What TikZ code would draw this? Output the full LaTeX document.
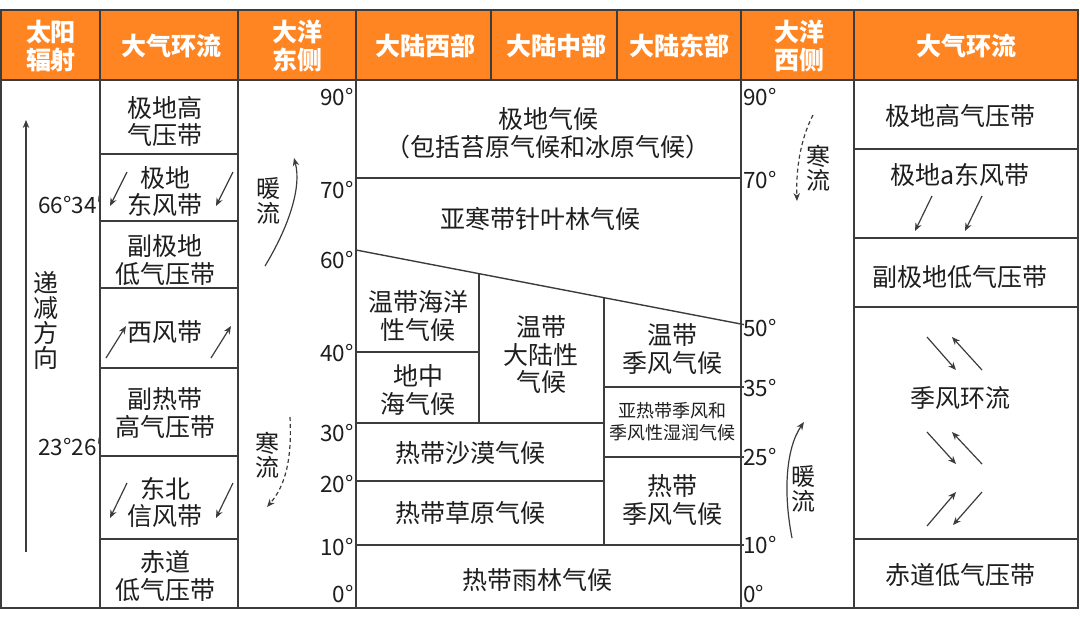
\documentclass[tikz,border=0pt]{standalone}
\usepackage{fontspec}
\setmainfont{Noto Sans CJK SC}
\usetikzlibrary{arrows.meta}
\definecolor{hdr}{HTML}{FF8523}
\definecolor{ln}{HTML}{3C3C3C}
\definecolor{tx}{HTML}{1E1E1E}
\begin{document}
\begin{tikzpicture}[x=1pt,y=-1pt,
  grid/.style={draw=ln, line width=1.4pt},
  frame/.style={draw=ln, line width=1.8pt},
  txt/.style={font=\fontsize{25}{27.5}\selectfont, text=tx, align=center, inner sep=0pt},
  vtxt/.style={font=\fontsize{24}{24.5}\selectfont, text=tx, align=center, inner sep=0pt},
  dtxt/.style={font=\fontsize{25}{25}\selectfont, text=tx, align=center, inner sep=0pt},
  hd/.style={font=\fontsize{25}{28}\selectfont\bfseries, text=white, align=center, inner sep=0pt},
  deg/.style={font=\fontsize{22.5}{24}\selectfont, text=tx, inner sep=0pt},
  smalltxt/.style={font=\fontsize{18}{22}\selectfont, text=tx, align=center, inner sep=0pt},
  arr/.style={draw=ln, line width=1.2pt, -{Stealth[length=8pt,width=6.5pt]}},
  darr/.style={arr, dash pattern=on 4pt off 3pt},
]
\useasboundingbox (0,0) rectangle (1080,625);
\fill[white] (0,0) rectangle (1080,625);
\fill[hdr] (1,10) rectangle (1078,80);

% latitude marks of the sun column (drawn under the lines)
\node[deg, anchor=east] (l66) at (103,205) {66°34′};
\node[deg, anchor=east] (l23) at (103,447) {23°26′};

% grid
\draw[grid] (1,80) -- (1078,80);
\foreach \x in {100,238,356,741,854} \draw[grid] (\x,10) -- (\x,608);
\foreach \x in {491,617} \draw[grid] (\x,10) -- (\x,80);
\foreach \y in {154,221,288,368,456,539} \draw[grid] (100,\y) -- (238,\y);
\draw[grid] (356,178) -- (741,178);
\draw[grid] (356,250) -- (744,324.6);
\draw[grid] (479,273.6) -- (479,423);
\draw[grid] (604,297.7) -- (604,545);
\draw[grid] (356,352) -- (479,352);
\draw[grid] (356,423) -- (604,423);
\draw[grid] (356,481) -- (604,481);
\draw[grid] (356,545) -- (744,545);
\draw[grid] (604,387) -- (744,387);
\draw[grid] (604,457) -- (744,457);
\foreach \y in {149,238,307,539} \draw[grid] (854,\y) -- (1078,\y);
\draw[frame] (1,10) rectangle (1078,608);

% header
\node[hd] (h1) at (51,46) {太阳\\辐射};
\node[hd] (h2) at (171,46) {大气环流};
\node[hd] (h3) at (297,46) {大洋\\东侧};
\node[hd] (h4) at (425,46) {大陆西部};
\node[hd] (h5) at (556,46) {大陆中部};
\node[hd] (h6) at (679,46) {大陆东部};
\node[hd] (h7) at (799,46) {大洋\\西侧};
\node[hd] (h8) at (966,46) {大气环流};

% sun column
\coordinate (sunA) at (26,552);
\coordinate (sunB) at (26,120);
\draw[arr] (sunA) -- (sunB);
\node[dtxt] (dj) at (46,320) {递\\减\\方\\向};

% left atmospheric circulation
\node[txt] (a1) at (165,121.5) {极地高\\气压带};
\node[txt] (a2) at (165,191.5) {极地\\东风带};
\node[txt] (a3) at (165,260) {副极地\\低气压带};
\node[txt] (a4) at (165,332) {西风带};
\node[txt] (a5) at (165,413) {副热带\\高气压带};
\node[txt] (a6) at (165,502.5) {东北\\信风带};
\node[txt] (a7) at (165,576) {赤道\\低气压带};

\coordinate (e1s) at (127,172); \coordinate (e1e) at (110,206);
\coordinate (e2s) at (233,172); \coordinate (e2e) at (216,206);
\draw[arr] (e1s) -- (e1e);
\draw[arr] (e2s) -- (e2e);
\coordinate (w1s) at (106,358); \coordinate (w1e) at (126,326);
\coordinate (w2s) at (211,358); \coordinate (w2e) at (231,326);
\draw[arr] (w1s) -- (w1e);
\draw[arr] (w2s) -- (w2e);
\coordinate (t1s) at (127,483); \coordinate (t1e) at (110,518);
\coordinate (t2s) at (233,483); \coordinate (t2e) at (216,518);
\draw[arr] (t1s) -- (t1e);
\draw[arr] (t2s) -- (t2e);

% east side of ocean
\node[vtxt] (nl1) at (268,201) {暖\\流};
\coordinate (nw1s) at (265,266); \coordinate (nw1e) at (294,158);
\draw[arr] (nw1s) .. controls (288,228) and (302,188) .. (nw1e);
\node[vtxt] (hl1) at (267,455) {寒\\流};
\coordinate (hc1s) at (290,417); \coordinate (hc1e) at (267,507);
\draw[darr] (hc1s) .. controls (292,458) and (286,485) .. (hc1e);

\node[deg, anchor=east] (d90) at (354,97) {90°};
\node[deg, anchor=east] (d70) at (354,190) {70°};
\node[deg, anchor=east] (d60) at (354,260) {60°};
\node[deg, anchor=east] (d40) at (354,353) {40°};
\node[deg, anchor=east] (d30) at (354,433) {30°};
\node[deg, anchor=east] (d20) at (354,484) {20°};
\node[deg, anchor=east] (d10) at (354,547) {10°};
\node[deg, anchor=east] (d0) at (354,594) {0°};

% continent climates
\node[txt] (c1) at (548,133) {极地气候\\（包括苔原气候和冰原气候）};
\node[txt] (c2) at (540,219) {亚寒带针叶林气候};
\node[txt] (c3) at (418,316) {温带海洋\\性气候};
\node[txt] (c4) at (418,390) {地中\\海气候};
\node[txt] (c5) at (541,355) {温带\\大陆性\\气候};
\node[txt] (c6) at (672,349) {温带\\季风气候};
\node[smalltxt] (c7) at (672,422) {亚热带季风和\\季风性湿润气候};
\node[txt] (c8) at (470,453) {热带沙漠气候};
\node[txt] (c9) at (470,513) {热带草原气候};
\node[txt] (c10) at (672,500) {热带\\季风气候};
\node[txt] (c11) at (537,580) {热带雨林气候};

% west side of ocean
\node[deg, anchor=west] (r90) at (743,97) {90°};
\node[deg, anchor=west] (r70) at (743,180) {70°};
\node[deg, anchor=west] (r50) at (743,328) {50°};
\node[deg, anchor=west] (r35) at (743,388) {35°};
\node[deg, anchor=west] (r25) at (743,457) {25°};
\node[deg, anchor=west] (r10) at (743,545) {10°};
\node[deg, anchor=west] (r0) at (743,594) {0°};

\node[vtxt] (hl2) at (818,168) {寒\\流};
\coordinate (hc2s) at (813,115); \coordinate (hc2e) at (797,201);
\draw[darr] (hc2s) .. controls (800,140) and (796,170) .. (hc2e);
\node[vtxt] (nl2) at (803,489) {暖\\流};
\coordinate (nw2s) at (792,538); \coordinate (nw2e) at (804,422);
\draw[arr] (nw2s) .. controls (783,492) and (786,448) .. (nw2e);

% right atmospheric circulation
\node[txt] (b1) at (960,116) {极地高气压带};
\node[txt] (b2) at (960,175) {极地a东风带};
\node[txt] (b3) at (960,277) {副极地低气压带};
\node[txt] (b4) at (960,398) {季风环流};
\node[txt] (b5) at (960,575) {赤道低气压带};

\coordinate (f1s) at (932,196); \coordinate (f1e) at (915,231);
\coordinate (f2s) at (982,196); \coordinate (f2e) at (965,231);
\draw[arr] (f1s) -- (f1e);
\draw[arr] (f2s) -- (f2e);
\coordinate (m1s) at (927,337); \coordinate (m1e) at (956,370);
\coordinate (m2s) at (982,370); \coordinate (m2e) at (952,337);
\draw[arr] (m1s) -- (m1e);
\draw[arr] (m2s) -- (m2e);
\coordinate (m3s) at (927,432); \coordinate (m3e) at (956,464);
\coordinate (m4s) at (982,464); \coordinate (m4e) at (952,432);
\draw[arr] (m3s) -- (m3e);
\draw[arr] (m4s) -- (m4e);
\coordinate (m5s) at (927,526); \coordinate (m5e) at (956,492);
\coordinate (m6s) at (982,492); \coordinate (m6e) at (953,525);
\draw[arr] (m5s) -- (m5e);
\draw[arr] (m6s) -- (m6e);
\end{tikzpicture}
\end{document}
